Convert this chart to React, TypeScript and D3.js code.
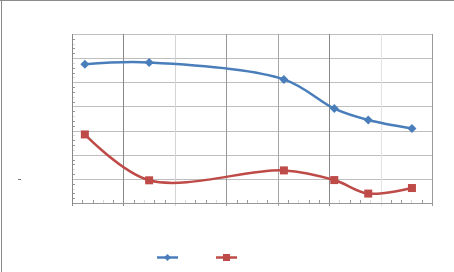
import React from "react";
import * as d3 from "d3";

const blueX = [0.25, 1.5, 4.12, 5.1, 5.76, 6.61];
const blueY = [5.75, 5.82, 5.12, 3.91, 3.44, 3.09];
const redX = [0.25, 1.5, 4.12, 5.1, 5.76, 6.61];
const redY = [2.84, 0.94, 1.35, 0.95, 0.39, 0.62];
const xMajor = [0, 1, 2, 3, 4, 5, 6, 7];
const yMajor = [0, 1, 2, 3, 4, 5, 6, 7];
const vGridColors = ["#888", "#888", "#D4D4D4", "#999", "#A8A8A8", "#888", "#E2E2E2", "#9A9A9A"];

const W = 454, H = 272;
const L = 72, R = 432, T = 34, B = 203;

export default function App() {
  const x = d3.scaleLinear().domain([0, 7]).range([L, R]);
  const y = d3.scaleLinear().domain([0, 7]).range([B, T]);
  const line = d3
    .line<[number, number]>()
    .x((d) => x(d[0]))
    .y((d) => y(d[1]))
    .curve(d3.curveCatmullRom.alpha(0.5));
  const blue = blueX.map((v, i) => [v, blueY[i]] as [number, number]);
  const red = redX.map((v, i) => [v, redY[i]] as [number, number]);
  const minor = d3.range(0, 7.001, 0.2).filter((v) => Math.abs(v - Math.round(v)) > 0.01);
  const blueC = "#4A7EBB";
  const redC = "#BE4B48";
  return (
    <svg width={W} height={H} style={{ position: "absolute", left: 0, top: 0 }}>
      <rect x={0} y={0} width={W} height={H} fill="#fff" />
      <line x1={0} x2={W} y1={0.5} y2={0.5} stroke="#8C8C8C" />
      <line x1={1.5} x2={1.5} y1={0} y2={H} stroke="#8C8C8C" />
      {yMajor.map((v) => (
        <line key={"h" + v} x1={L} x2={R} y1={Math.round(y(v)) + 0.5} y2={Math.round(y(v)) + 0.5} stroke="#BEBEBE" />
      ))}
      {xMajor.map((v, i) => (
        <line key={"v" + v} x1={Math.round(x(v)) + 0.5} x2={Math.round(x(v)) + 0.5} y1={T} y2={i === 0 ? B : B + 3} stroke={vGridColors[i]} />
      ))}
      {minor.map((v, i) => (
        <line key={"xm" + i} x1={Math.round(x(v)) + 0.5} x2={Math.round(x(v)) + 0.5} y1={B - 3} y2={B} stroke={i % 3 === 2 ? "#D8D8D8" : "#999"} />
      ))}
      {minor.map((v, i) => (
        <line key={"ym" + i} x1={L} x2={L + 3} y1={Math.round(y(v)) + 0.5} y2={Math.round(y(v)) + 0.5} stroke={i % 3 === 2 ? "#D8D8D8" : "#999"} />
      ))}
      <line x1={L} x2={R + 0.5} y1={B + 0.5} y2={B + 0.5} stroke="#999" />
      <line x1={L + 0.5} x2={L + 0.5} y1={T} y2={B + 3} stroke="#888" />
      <line x1={18} x2={21} y1={179.5} y2={179.5} stroke="#777" />
      <path d={line(blue) || ""} fill="none" stroke={blueC} strokeWidth={2.5} />
      <path d={line(red) || ""} fill="none" stroke={redC} strokeWidth={2.5} />
      {blue.map((d, i) => (
        <path key={"bm" + i} transform={`translate(${x(d[0])},${y(d[1])})`} d="M0,-4.5L4.5,0L0,4.5L-4.5,0Z" fill={blueC} />
      ))}
      {red.map((d, i) => (
        <rect key={"rm" + i} x={x(d[0]) - 4} y={y(d[1]) - 4} width={8} height={8} fill={redC} />
      ))}
      <line x1={157} x2={178} y1={257.5} y2={257.5} stroke={blueC} strokeWidth={2.5} />
      <path transform="translate(167.5,257.5)" d="M0,-3.5L3.5,0L0,3.5L-3.5,0Z" fill={blueC} />
      <line x1={216} x2={237} y1={257.5} y2={257.5} stroke={redC} strokeWidth={2.5} />
      <rect x={223} y={254} width={7} height={7} fill={redC} />
    </svg>
  );
}
